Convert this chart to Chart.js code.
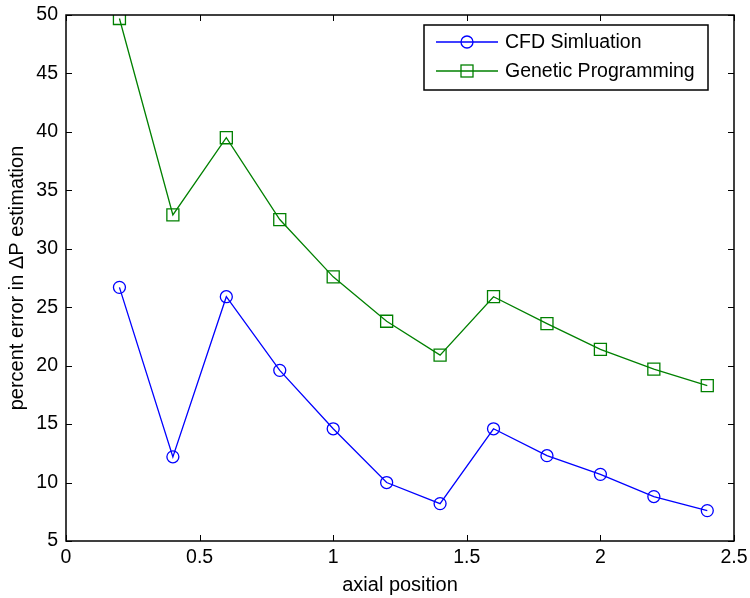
<!DOCTYPE html>
<html>
<head>
<meta charset="utf-8">
<script src="https://cdn.jsdelivr.net/npm/chart.js@4"></script>
<style>
  html, body { margin: 0; padding: 0; background: #fff; }
  #wrap { width: 750px; height: 598px; }
</style>
</head>
<body>
<div id="wrap"><canvas id="myChart"></canvas></div>
<script>
const positions = [0.2, 0.4, 0.6, 0.8, 1.0, 1.2, 1.4, 1.6, 1.8, 2.0, 2.2, 2.4];
const cfdValues = [26.7, 12.2, 25.9, 19.6, 14.6, 10.0, 8.2, 14.6, 12.3, 10.7, 8.8, 7.6];
const gpValues = [49.7, 32.9, 39.5, 32.5, 27.6, 23.8, 20.9, 25.9, 23.6, 21.4, 19.7, 18.3];
const xTicks = [0, 0.5, 1, 1.5, 2, 2.5];
const yTicks = [5, 10, 15, 20, 25, 30, 35, 40, 45, 50];

const FONT = "'Liberation Sans', Arial, sans-serif";

// matlab style box, inward ticks and the legend
const boxPlugin = {
  id: "boxPlugin",
  afterDraw(chart) {
    const { ctx, chartArea: a, scales } = chart;
    ctx.save();
    ctx.strokeStyle = "#000";
    ctx.lineWidth = 1.5;
    ctx.strokeRect(a.left, a.top, a.right - a.left, a.bottom - a.top);

    ctx.lineWidth = 1;
    xTicks.forEach((t) => {
      const x = Math.round(scales.x.getPixelForValue(t)) + 0.5;
      ctx.beginPath();
      ctx.moveTo(x, a.bottom); ctx.lineTo(x, a.bottom - 6);
      ctx.moveTo(x, a.top); ctx.lineTo(x, a.top + 6);
      ctx.stroke();
    });
    yTicks.forEach((t) => {
      const y = Math.round(scales.y.getPixelForValue(t)) + 0.5;
      ctx.beginPath();
      ctx.moveTo(a.left, y); ctx.lineTo(a.left + 6, y);
      ctx.moveTo(a.right, y); ctx.lineTo(a.right - 6, y);
      ctx.stroke();
    });

    // legend
    const lx = 424, ly = 25, lw = 284, lh = 65;
    ctx.fillStyle = "#fff";
    ctx.fillRect(lx, ly, lw, lh);
    ctx.lineWidth = 1.5;
    ctx.strokeRect(lx, ly, lw, lh);
    chart.data.datasets.forEach((ds, i) => {
      const y = 42 + i * 29;
      ctx.strokeStyle = ds.borderColor;
      ctx.lineWidth = 1.3;
      ctx.beginPath();
      ctx.moveTo(436, y); ctx.lineTo(498, y);
      ctx.stroke();
      if (ds.pointStyle === "circle") {
        ctx.beginPath();
        ctx.arc(467, y, 6, 0, Math.PI * 2);
        ctx.stroke();
      } else {
        ctx.strokeRect(461, y - 6, 12, 12);
      }
      ctx.fillStyle = "#000";
      ctx.font = "19.5px " + FONT;
      ctx.textBaseline = "middle";
      ctx.fillText(ds.label, 505, y + 1);
    });
    ctx.restore();
  },
};

new Chart(document.getElementById("myChart"), {
  type: "line",
  data: {
    datasets: [
      {
        label: "CFD Simluation",
        data: positions.map((x, i) => ({ x: x, y: cfdValues[i] })),
        borderColor: "#0000ff",
        backgroundColor: "rgba(0,0,0,0)",
        borderWidth: 1.3,
        pointStyle: "circle",
        pointRadius: 6,
        pointBorderWidth: 1.3,
        pointBorderColor: "#0000ff",
        pointBackgroundColor: "rgba(0,0,0,0)",
        tension: 0,
      },
      {
        label: "Genetic Programming",
        data: positions.map((x, i) => ({ x: x, y: gpValues[i] })),
        borderColor: "#008000",
        backgroundColor: "rgba(0,0,0,0)",
        borderWidth: 1.3,
        pointStyle: "rect",
        pointRadius: 8.5,
        pointBorderWidth: 1.3,
        pointBorderColor: "#008000",
        pointBackgroundColor: "rgba(0,0,0,0)",
        tension: 0,
      },
    ],
  },
  options: {
    responsive: true,
    maintainAspectRatio: false,
    animation: false,
    layout: { padding: { left: 0, right: 16, top: 15, bottom: 0 } },
    plugins: {
      legend: { display: false },
      tooltip: { enabled: false },
    },
    scales: {
      x: {
        type: "linear",
        min: 0,
        max: 2.5,
        grid: { display: false, drawTicks: false },
        border: { display: false },
        afterBuildTicks: (scale) => { scale.ticks = xTicks.map((v) => ({ value: v })); },
        afterFit: (scale) => {
          scale.height = 57;
          scale.paddingLeft = 0;
          scale.paddingRight = 0;
        },
        ticks: {
          color: "#000",
          padding: 5,
          font: { family: FONT, size: 19.5 },
          callback: (v) => String(v),
        },
        title: {
          display: true,
          text: "axial position",
          color: "#000",
          padding: { top: 0, bottom: 1 },
          font: { family: FONT, size: 20 },
        },
      },
      y: {
        min: 5,
        max: 50,
        grid: { display: false, drawTicks: false },
        border: { display: false },
        afterBuildTicks: (scale) => { scale.ticks = yTicks.map((v) => ({ value: v })); },
        afterFit: (scale) => {
          scale.width = 66;
          scale.paddingTop = 0;
          scale.paddingBottom = 0;
        },
        ticks: {
          color: "#000",
          padding: 8,
          font: { family: FONT, size: 19.5 },
        },
        title: {
          display: true,
          text: "percent error in \u0394P estimation",
          color: "#000",
          padding: { top: 5, bottom: 0 },
          font: { family: FONT, size: 20 },
        },
      },
    },
  },
  plugins: [boxPlugin],
});
</script>
</body>
</html>
